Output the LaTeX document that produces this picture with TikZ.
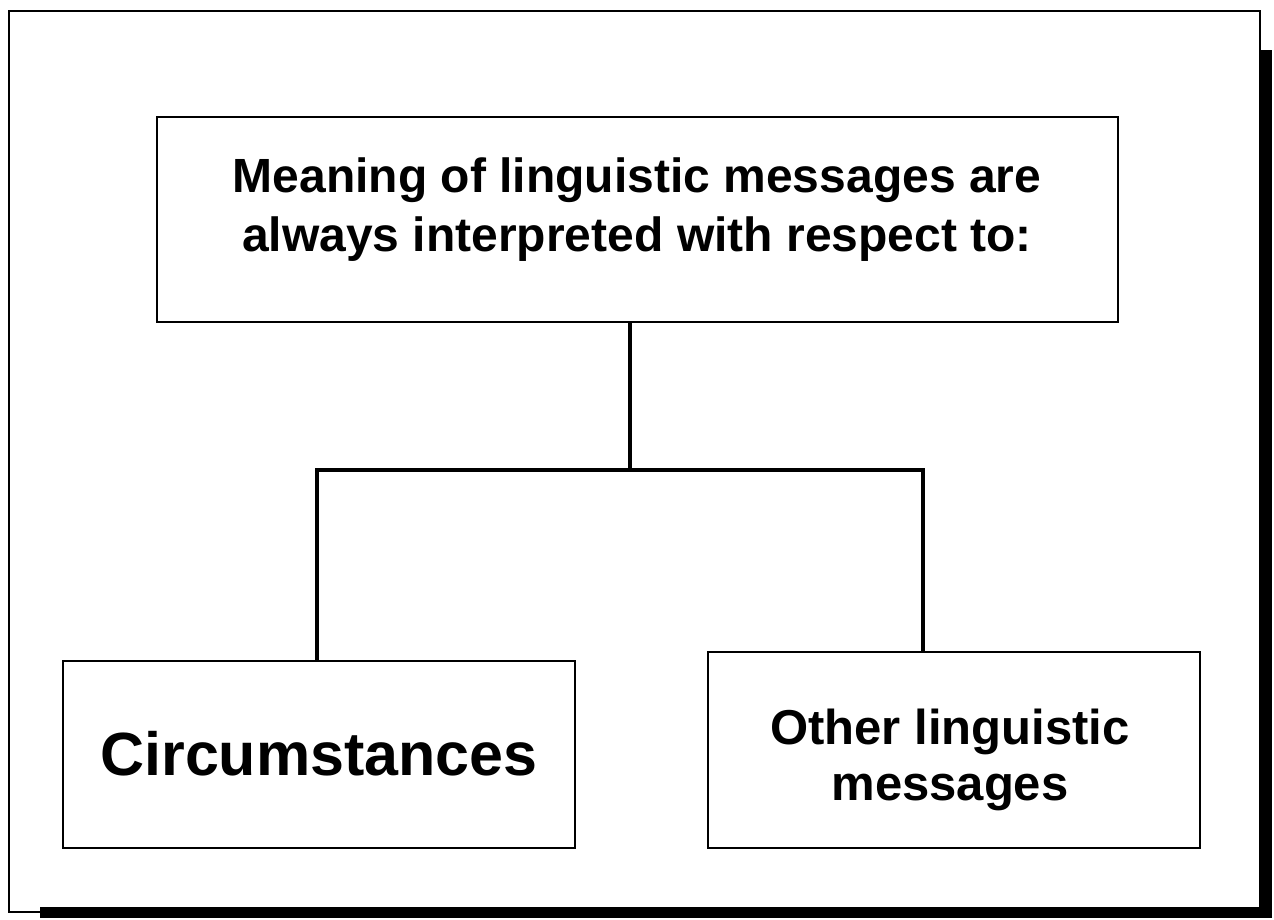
\documentclass[tikz,border=0pt]{standalone}
\usepackage{fontspec}
\setmainfont{Liberation Sans}
\begin{document}
\begin{tikzpicture}[x=1pt,y=-1pt,
  box/.style={draw=black,line width=2.6pt,rectangle,inner sep=0pt},
  conn/.style={draw=black,line width=4pt},
  txt/.style={font=\bfseries\fontsize{48}{59}\selectfont,align=center,inner sep=0pt},
  bigtxt/.style={font=\bfseries\fontsize{61}{70}\selectfont,align=center,inner sep=0pt}]
\useasboundingbox (0,0) rectangle (1274,920);
% outer frame with shadow
\draw[line width=2.5pt] (9,11) rectangle (1260,912);
\fill[black] (1260,50) rectangle (1272,918);
\fill[black] (40,907) rectangle (1272,918);
% boxes
\node[box,minimum width=961pt,minimum height=205pt] (top) at (637.5,219.5) {};
\node[box,minimum width=512pt,minimum height=187pt] (left) at (319,754.5) {};
\node[box,minimum width=492pt,minimum height=196pt] (right) at (954,750) {};
% texts
\node[txt] (toptext) at (637,210) {Meaning of linguistic messages are\\always interpreted with respect to:};
\node[bigtxt] (lefttext) at (319,754) {Circumstances};
\node[txt,font=\bfseries\fontsize{49}{56}\selectfont] (righttext) at (950,760) {Other linguistic\\messages};
% connectors
\coordinate (j) at (630,470);
\coordinate (jl) at (317,470);
\coordinate (jr) at (923,470);
\draw[conn] (top.south -| j) -- (j);
\draw[conn] (left.north -| jl) -- (jl) -- (jr) -- (right.north -| jr);
\end{tikzpicture}
\end{document}
